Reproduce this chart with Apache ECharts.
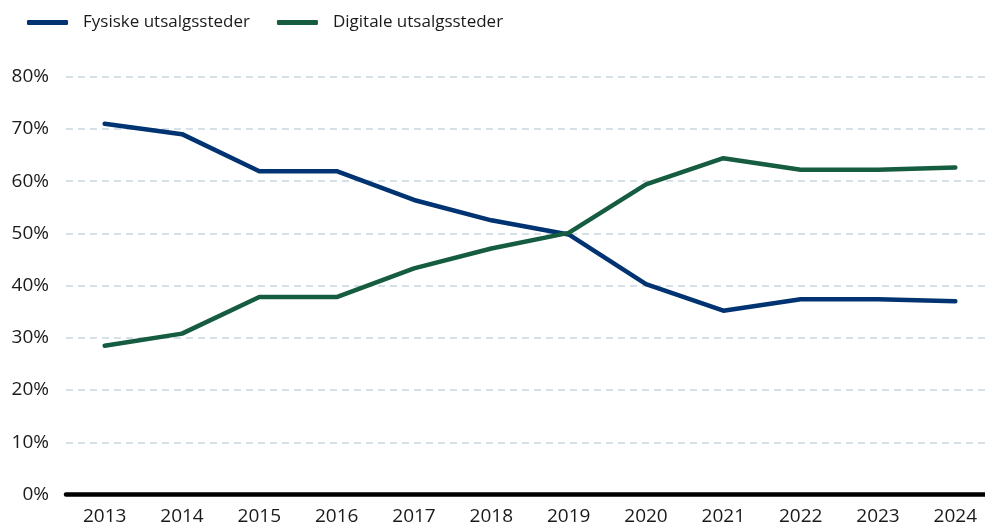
<!DOCTYPE html>
<html>
<head>
<meta charset="utf-8">
<script src="https://cdn.jsdelivr.net/npm/echarts@6/dist/echarts.min.js"></script>
<style>
  html, body { margin: 0; padding: 0; background: #fff; }
  #chart { width: 985px; height: 526px; }
</style>
</head>
<body>
<div id="chart"></div>
<script>
// data
const years = ['2013', '2014', '2015', '2016', '2017', '2018', '2019', '2020', '2021', '2022', '2023', '2024'];
const fysiske = [71.0, 69.0, 61.9, 61.9, 56.4, 52.5, 49.8, 40.3, 35.2, 37.4, 37.4, 37.0];
const digitale = [28.5, 30.8, 37.8, 37.8, 43.3, 47.1, 50.1, 59.4, 64.4, 62.2, 62.2, 62.6];
const seriesNames = ['Fysiske utsalgssteder', 'Digitale utsalgssteder'];

const FONT = 'Open Sans';
const chart = echarts.init(document.getElementById('chart'));

chart.setOption({
    animation: false,
    textStyle: {fontFamily: FONT},
    legend: {
        data: seriesNames,
        left: 22,
        top: 9,
        itemWidth: 41,
        itemHeight: 5,
        itemGap: 27,
        icon: 'roundRect',
        textStyle: {fontFamily: FONT, fontSize: 17, color: '#1a1a1a', padding: [0, 0, 0, 10]}
    },
    // plot runs a little past the right edge, like the original
    grid: {left: 66, width: 928, top: 76.7, bottom: 31.5, containLabel: false, outerBoundsMode: 'none'},
    xAxis: {
        type: 'category',
        data: years,
        boundaryGap: true,
        axisTick: {show: false},
        axisLine: {lineStyle: {color: '#000', width: 4.5}},
        axisLabel: {fontFamily: FONT, fontSize: 19, color: '#1a1a1a', margin: 13}
    },
    yAxis: {
        type: 'value',
        min: 0,
        max: 80,
        interval: 10,
        axisLine: {show: false},
        axisTick: {show: false},
        axisLabel: {fontFamily: FONT, fontSize: 19, color: '#1a1a1a', margin: 17, formatter: '{value}%'},
        splitLine: {lineStyle: {color: '#c9d6e0', width: 1.5, type: [7, 5]}}
    },
    series: [
        {
            name: seriesNames[0],
            type: 'line',
            data: fysiske,
            symbol: 'none',
            color: '#003371',
            lineStyle: {width: 4.5, cap: 'round', join: 'round'}
        },
        {
            name: seriesNames[1],
            type: 'line',
            data: digitale,
            symbol: 'none',
            color: '#155c40',
            lineStyle: {width: 4.5, cap: 'round', join: 'round'}
        }
    ]
});
</script>
</body>
</html>
